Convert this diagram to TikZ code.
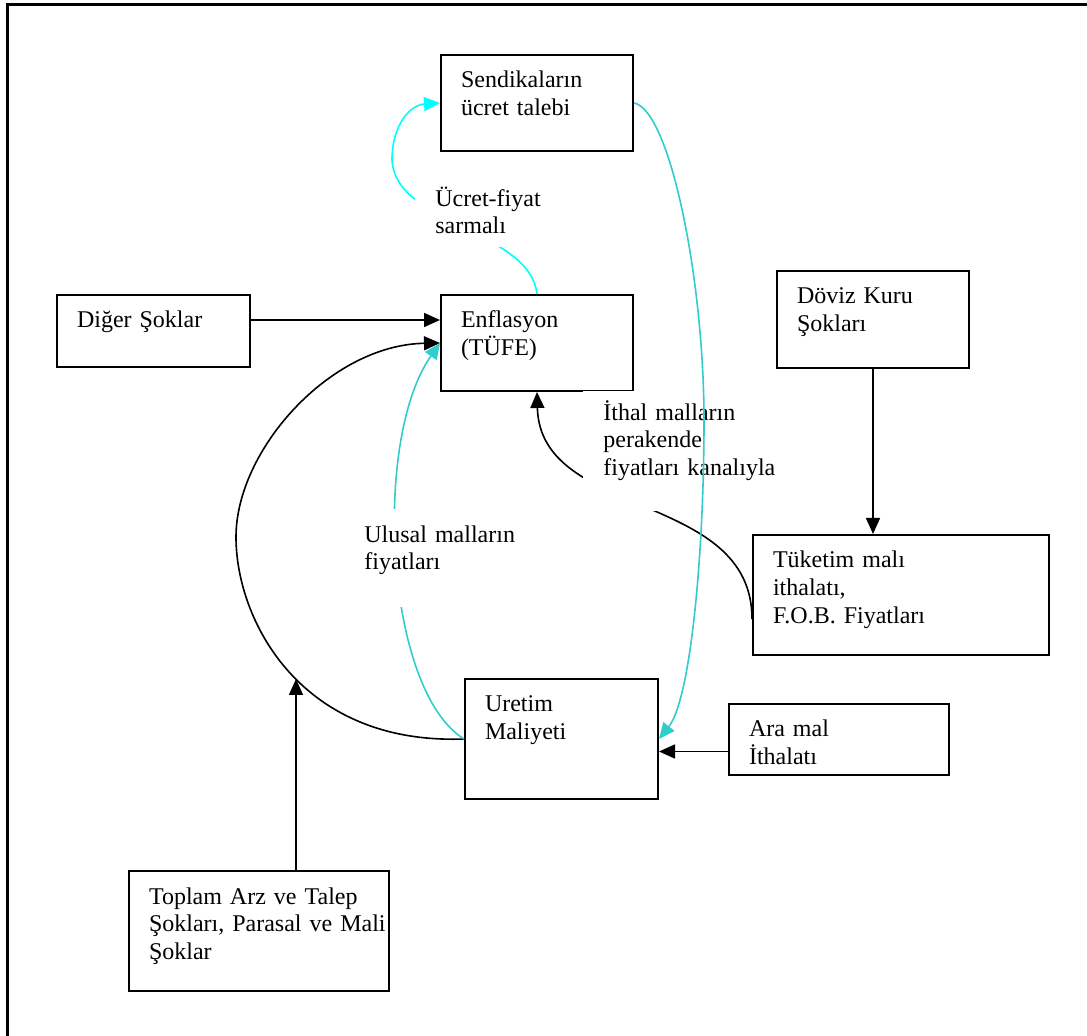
\documentclass[tikz,border=0pt]{standalone}
\usepackage{fontspec}
\setmainfont{Liberation Serif}
\usetikzlibrary{arrows.meta}
\definecolor{sarmalcyan}{HTML}{00FFFF}
\definecolor{ulusalteal}{HTML}{33CCCC}

\begin{document}
\begin{tikzpicture}[x=0.5pt,y=-0.5pt,
  font=\fontsize{12}{13.8}\selectfont,
  box/.style={draw,line width=1pt,anchor=north west,align=left,
    inner xsep=10pt,inner ysep=0pt,text height=16.5pt},
  note/.style={fill=white,anchor=north west,align=left,
    inner xsep=10pt,inner ysep=0pt},
  conn/.style={line width=0.8pt,-{Triangle[length=8pt,width=7pt]}}]
		\useasboundingbox (0,0) rectangle (1087,1036);
		\draw[line width=1.5pt] (7,1040) -- (7,5) -- (1090,5);
		% kutular
		\node[box,text width=76pt,text depth=31.5pt] (sen) at (440,54) {Sendikaların\\ücret talebi};
		\node[box,text width=76pt,text depth=31.5pt] (enf) at (440,294) {Enflasyon\\(TÜFE)};
		\node[box,text width=76.5pt,text depth=19.5pt] (dig) at (56,294) {Diğer Şoklar};
		\node[box,text width=76pt,text depth=32pt] (dov) at (776,270) {Döviz Kuru\\Şokları};
		\node[box,text width=128pt,text depth=43.5pt] (tuk) at (752,534) {Tüketim malı\\ithalatı,\\F.O.B. Fiyatları};
		\node[box,text width=76.5pt,text depth=43.5pt] (ure) at (464,678) {Uretim\\Maliyeti};
		\node[box,text width=90pt,text depth=19pt] (ara) at (728,703) {Ara mal\\İthalatı};
		\node[box,text width=110pt,text depth=43.5pt] (top) at (128,870) {Toplam Arz ve Talep\\\mbox{Şokları, Parasal ve Mali}\\Şoklar};
		% oklar
		\coordinate (digout) at ([yshift=5.5pt]dig.east);
		\coordinate (arain) at ([yshift=-6pt]ara.west);
		\coordinate (tukin) at ([yshift=-12pt]tuk.west);
		\coordinate (arcin) at (296,679);
		\draw[conn] (digout) -- (digout -| enf.west);
		\draw[conn] (dov.south) -- (dov.south |- tuk.north);
		\draw[conn] (arain) -- (arain -| ure.east);
		\draw[conn] (top.north -| arcin) -- (arcin);
		\draw[conn] (ure.west) .. controls (300,745) and (236,620) .. (236,537)
			.. controls (236,450) and (330,345) .. (enf.west);
		\draw[conn,ulusalteal] (ure.west) .. controls (385,690) and (372,440) .. (enf.west);
		\draw[conn] (tukin) .. controls (752,490) and (540,520) .. (enf.south);
		\draw[conn,sarmalcyan] (enf.north) .. controls (530,230) and (395,225) .. (392,160)
			.. controls (392,125) and (410,105) .. (sen.west);
		% etiketler
		\node[note,text width=60pt,text height=15pt,text depth=20.5pt] (sarmal) at (415,176) {Ücret-fiyat\\sarmalı};
		\node[note,text width=80pt,text height=16.5pt,text depth=32.5pt] (ulusal) at (344,509) {Ulusal malların\\fiyatları};
		\node[note,text width=90pt,text height=14.5pt,text depth=45.5pt] (ithal) at (583,391) {İthal malların\\perakende\\fiyatları kanalıyla};
		\draw[conn,ulusalteal] (sen.east) .. controls (670,110) and (704,280) .. (704,420)
			.. controls (704,560) and (690,700) .. (ure.east);
\end{tikzpicture}
\end{document}
